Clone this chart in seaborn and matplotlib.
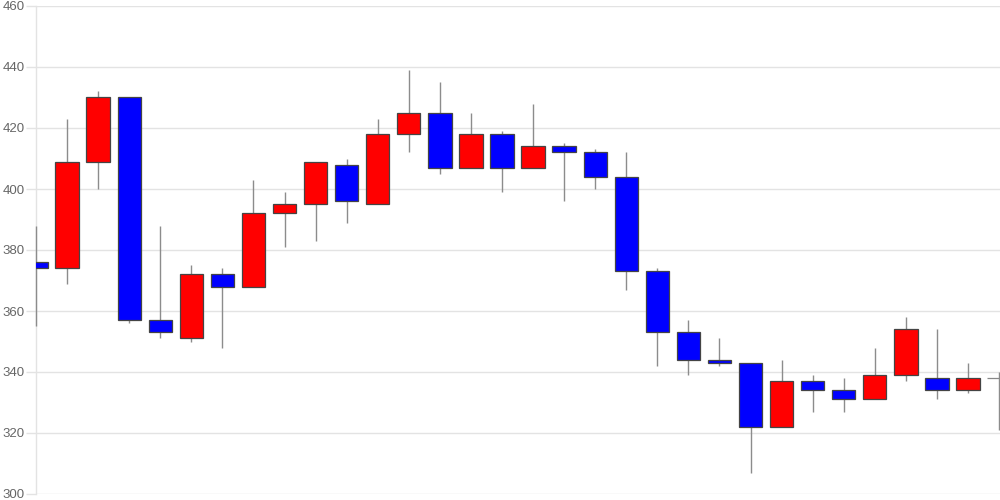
import numpy as np
import pandas as pd
import matplotlib
matplotlib.use("Agg")
import matplotlib.pyplot as plt
import seaborn as sns

# OHLC values
opens = [376, 374, 409, 430, 357, 351, 372, 368, 392, 395, 408, 395, 418, 425, 407, 418,
         407, 414, 412, 404, 373, 353, 344, 343, 322, 337, 334, 331, 339, 338, 334, 338]
closes = [374, 409, 430, 357, 353, 372, 368, 392, 395, 409, 396, 418, 425, 407, 418, 407,
          414, 412, 404, 373, 353, 344, 343, 322, 337, 334, 331, 339, 354, 334, 338, 338]
highs = [388, 423, 432, 430, 388, 375, 374, 403, 399, 409, 410, 423, 439, 435, 425, 419,
         428, 415, 413, 412, 374, 357, 351, 343, 344, 339, 338, 348, 358, 354, 343, 340]
lows = [355, 369, 400, 356, 351, 350, 348, 368, 381, 383, 389, 395, 412, 405, 407, 399,
        407, 396, 400, 367, 342, 339, 342, 307, 322, 327, 327, 331, 337, 331, 333, 321]
y_ticks = [300, 320, 340, 360, 380, 400, 420, 440, 460]

df = pd.DataFrame({"open": opens, "close": closes, "high": highs, "low": lows})
df["idx"] = np.arange(len(df))
df["bottom"] = df[["open", "close"]].min(axis=1)
df["height"] = (df["close"] - df["open"]).abs()

def candle_color(o, c):
    if c > o:
        return "#ff0000"
    if c < o:
        return "#0000ff"
    return "#888888"

df["color"] = [candle_color(o, c) for o, c in zip(df["open"], df["close"])]

sns.set_theme(style="whitegrid")
plt.rcParams["font.family"] = ["Liberation Sans", "DejaVu Sans"]
fig = plt.figure(figsize=(10, 5), dpi=100)
ax = fig.add_axes([0.036, 0.012, 0.964, 0.976])

# wicks (not clipped so the edge candles show like the original)
ax.vlines(df["idx"], df["low"], df["high"], color="#8c8c8c", linewidth=1,
          zorder=4, clip_on=False)

# bodies
for _, r in df.iterrows():
    ec = "#888888" if r["height"] == 0 else "#444444"
    ax.bar(r["idx"], r["height"], bottom=r["bottom"], width=0.75,
           color=r["color"], edgecolor=ec, linewidth=0.9, zorder=5)

# a hair of room on the right so the last wick stays on the canvas
ax.set_xlim(0, len(df) - 1 + 0.03)
ax.set_ylim(300, 460)
ax.set_yticks(y_ticks)
ax.set_xticks([])
ax.grid(axis="y", color="#e3e3e3", linewidth=1)
ax.grid(axis="x", visible=False)
ax.tick_params(axis="y", length=7, width=1, color="#e3e3e3", labelsize=9.5,
               labelcolor="#666666", pad=1, left=True)
for side in ["top", "right", "bottom"]:
    ax.spines[side].set_visible(False)
ax.spines["left"].set_color("#e3e3e3")
ax.spines["left"].set_linewidth(1)

fig.savefig("out.png", dpi=100)
